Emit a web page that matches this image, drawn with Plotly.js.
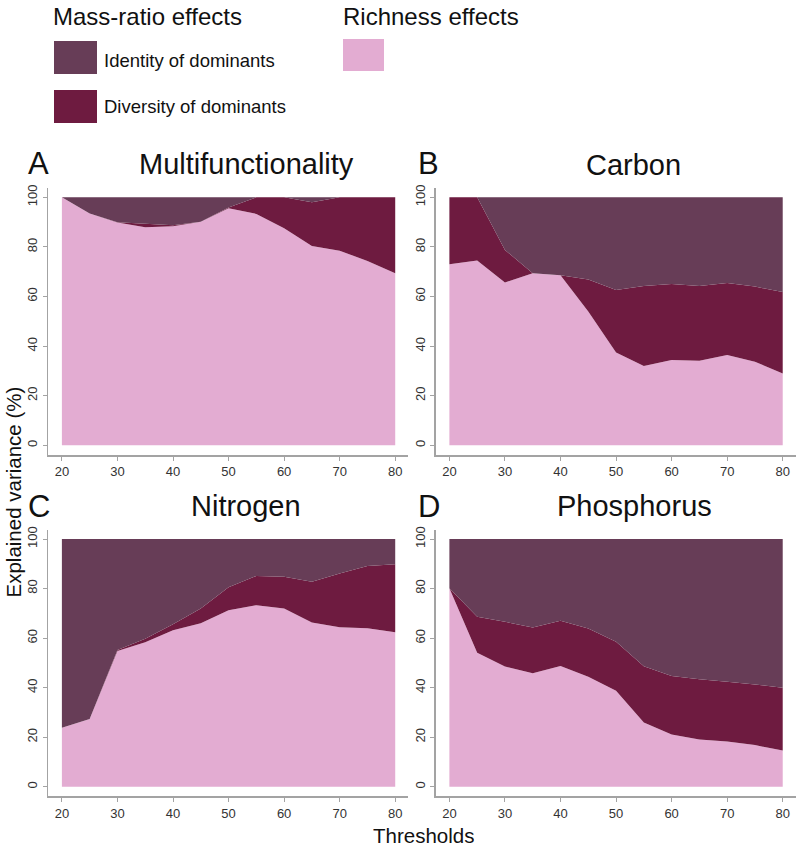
<!DOCTYPE html>
<html>
<head>
<meta charset="utf-8">
<script src="https://cdn.plot.ly/plotly-3.0.1.min.js"></script>
<style>html,body{margin:0;padding:0;background:#fff;}#chart{width:796px;height:848px;}</style>
</head>
<body>
<div id="chart"></div>
<script>
// ---- data ----
const thresholds = [20, 25, 30, 35, 40, 45, 50, 55, 60, 65, 70, 75, 80];
const xTickVals = [20, 30, 40, 50, 60, 70, 80];
const yTickVals = [0, 20, 40, 60, 80, 100];

// A: Multifunctionality
const richA  = [100, 93.5, 89.8, 87.9, 88.3, 90.2, 95.6, 93.3, 87.5, 80.4, 78.5, 74.3, 69.4];
const divA   = [0, 0, 0.2, 1.4, 0.4, 0, 0.3, 6.7, 12.5, 17.6, 21.5, 25.7, 30.6];
const identA = [0, 6.5, 10.0, 10.7, 11.3, 9.8, 4.1, 0, 0, 2.0, 0, 0, 0];
// B: Carbon
const richB  = [73.0, 74.5, 65.7, 69.4, 68.6, 54.0, 37.4, 32.0, 34.4, 34.1, 36.4, 33.7, 29.0];
const divB   = [27.0, 25.5, 13.1, 0, 0, 12.9, 25.2, 32.2, 30.7, 30.1, 29.1, 30.3, 32.8];
const identB = [0, 0, 21.2, 30.6, 31.4, 33.1, 37.4, 35.8, 34.9, 35.8, 34.5, 36.0, 38.2];
// C: Nitrogen
const richC  = [23.8, 27.3, 54.8, 58.3, 63.2, 66.0, 71.2, 73.3, 72.0, 66.3, 64.4, 64.0, 62.4];
const divC   = [0, 0, 0.4, 1.4, 2.4, 6.0, 9.3, 11.8, 12.8, 16.5, 21.7, 25.1, 27.4];
const identC = [76.2, 72.7, 44.8, 40.3, 34.4, 28.0, 19.5, 14.9, 15.2, 17.2, 13.9, 10.9, 10.2];
// D: Phosphorus
const richD  = [80.1, 54.1, 48.5, 45.8, 48.7, 44.4, 38.7, 25.9, 21.1, 19.1, 18.3, 16.8, 14.6];
const divD   = [0, 14.5, 18.1, 18.5, 18.3, 19.5, 19.8, 22.7, 23.6, 24.3, 24.1, 24.5, 25.4];
const identD = [19.9, 31.4, 33.4, 35.7, 33.0, 36.1, 41.5, 51.4, 55.3, 56.6, 57.6, 58.7, 60.0];

const panelLetters = ["A", "B", "C", "D"];
const panelTitles = ["Multifunctionality", "Carbon", "Nitrogen", "Phosphorus"];
const legendGroupTitles = ["Mass-ratio effects", "Richness effects"];
const seriesNames = ["Identity of dominants", "Diversity of dominants", "Richness effects"];
const xTitle = "Thresholds";
const yTitle = "Explained variance (%)";

// ---- styling ----
const W = 796, H = 848;
const COL_IDENT = "#673d57";
const COL_DIV = "#6e1b40";
const COL_RICH = "#e3acd2";
const AXCOL = "#a3a3a3";
const FONT = "Liberation Sans, Arial, Helvetica, sans-serif";
const px = x => x / W;
const py = y => 1 - y / H;

const panels = [
  {rich: richA, div: divA, ident: identA, xd: [48, 408],    yd: [455, 188.4]},
  {rich: richB, div: divB, ident: identB, xd: [435.5, 795.5], yd: [455, 188.4]},
  {rich: richC, div: divC, ident: identC, xd: [48, 408],    yd: [796.4, 530.1]},
  {rich: richD, div: divD, ident: identD, xd: [435.5, 795.5], yd: [796.4, 530.1]}
];

const traces = [];
const layout = {
  width: W, height: H,
  margin: {l: 0, r: 0, t: 0, b: 0},
  paper_bgcolor: "#fff", plot_bgcolor: "rgba(0,0,0,0)",
  showlegend: false, hovermode: false,
  font: {family: FONT, color: "#222"},
  annotations: [], shapes: []
};

panels.forEach((p, i) => {
  const n = i === 0 ? "" : String(i + 1);
  const xa = "x" + n, ya = "y" + n;
  const sg = "stack" + i;
  [[p.rich, COL_RICH, seriesNames[2]], [p.div, COL_DIV, seriesNames[1]], [p.ident, COL_IDENT, seriesNames[0]]]
    .forEach(([vals, col, name]) => {
      traces.push({
        type: "scatter", x: thresholds, y: vals, name: name,
        xaxis: xa, yaxis: ya, stackgroup: sg, mode: "none",
        fillcolor: col, line: {width: 0}
      });
    });
  layout["xaxis" + n] = {
    domain: [px(p.xd[0]), px(p.xd[1])], anchor: ya,
    range: [17.5, 82.3], tickvals: xTickVals, ticks: "outside", ticklen: 4,
    tickcolor: AXCOL, showline: true, linecolor: AXCOL, linewidth: 1.5,
    showgrid: false, zeroline: false, fixedrange: true,
    tickfont: {size: 13, color: "#333", family: FONT}
  };
  layout["yaxis" + n] = {
    domain: [py(p.yd[0]), py(p.yd[1])], anchor: xa,
    range: [-3.9, 103.6], tickvals: yTickVals, ticks: "outside", ticklen: 4,
    tickcolor: AXCOL, showline: true, linecolor: AXCOL, linewidth: 1.5,
    showgrid: false, zeroline: false, fixedrange: true, tickangle: -90,
    tickfont: {size: 13, color: "#333", family: FONT}
  };
});

function ann(text, x, y, size, xanchor, extra) {
  return Object.assign({
    text: text, xref: "paper", yref: "paper", x: px(x), y: py(y),
    xanchor: xanchor, yanchor: "middle", showarrow: false,
    font: {size: size, color: "#111", family: FONT}
  }, extra || {});
}

// panel letters & titles
const letterPos = [[26, 163], [415.5, 163], [26, 506.5], [415.5, 506.5]];
const titlePos = [[246.5, 164], [633, 165], [245.5, 505.5], [634.3, 505.5]];
panelLetters.forEach((t, i) => layout.annotations.push(ann(t, letterPos[i][0], letterPos[i][1], 31, "left")));
panelTitles.forEach((t, i) => layout.annotations.push(ann(t, titlePos[i][0], titlePos[i][1], 29, "center")));

// axis titles
layout.annotations.push(ann(xTitle, 423, 835, 20.5, "center", {height: 20}));
layout.annotations.push(ann(yTitle, 12.5, 492, 20.5, "center", {textangle: -90}));

// legend
layout.annotations.push(ann(legendGroupTitles[0], 51, 17, 24, "left"));
layout.annotations.push(ann(legendGroupTitles[1], 341, 17, 24, "left"));
layout.annotations.push(ann(seriesNames[0], 102, 60.5, 18.5, "left"));
layout.annotations.push(ann(seriesNames[1], 102, 106.5, 18.5, "left"));
const sw = [[54, 41, 97, 74, COL_IDENT], [54, 90, 97, 123, COL_DIV], [343, 39, 384, 71, COL_RICH]];
sw.forEach(s => layout.shapes.push({
  type: "rect", xref: "paper", yref: "paper",
  x0: px(s[0]), x1: px(s[2]), y0: py(s[3]), y1: py(s[1]),
  fillcolor: s[4], line: {width: 0}
}));

Plotly.newPlot("chart", traces, layout, {staticPlot: true, displayModeBar: false});
</script>
</body>
</html>
